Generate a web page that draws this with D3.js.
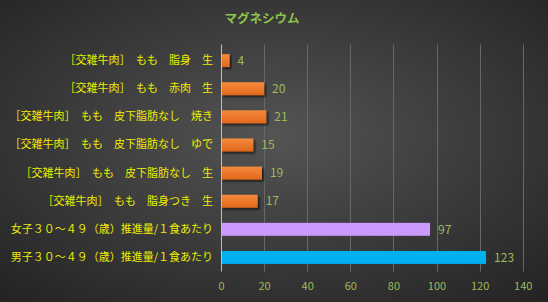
<!doctype html>
<html lang="ja">
<head>
  <meta charset="UTF-8">
  <title>マグネシウム</title>
  <script src="https://d3js.org/d3.v7.min.js" charset="utf-8"></script>
  <style>
    body { margin: 0; background: #333; }
    svg { display: block; }
  </style>
</head>
<body>
  <script>

    var categories = [
      "［交雑牛肉］　もも　脂身　生",
      "［交雑牛肉］　もも　赤肉　生",
      "［交雑牛肉］　もも　皮下脂肪なし　焼き",
      "［交雑牛肉］　もも　皮下脂肪なし　ゆで",
      "［交雑牛肉］　もも　皮下脂肪なし　生",
      "［交雑牛肉］　もも　脂身つき　生",
      "女子３０～４９（歳）推進量/１食あたり",
      "男子３０～４９（歳）推進量/１食あたり"
    ];
    var values = [4, 20, 21, 15, 19, 17, 97, 123];
    var barColors = ["orange", "orange", "orange", "orange", "orange", "orange", "#cc99ff", "#00b0f0"];
    var xTicks = [0, 20, 40, 60, 80, 100, 120, 140];

    var width = 548
      , height = 302
      , margin = {top: 46.5, right: 26, bottom: 30.5, left: 221}
      ;

    var svg = d3.select("body").append("svg")
      .attr("width", width)
      .attr("height", height);

    var defs = svg.append("defs");

    var bg = defs.append("radialGradient")
      .attr("id", "bg")
      .attr("cx", "50%").attr("cy", "45%").attr("r", "75%");
    bg.append("stop").attr("offset", "0%").attr("stop-color", "#545454");
    bg.append("stop").attr("offset", "100%").attr("stop-color", "#222222");

    var og = defs.append("linearGradient")
      .attr("id", "orangeGrad")
      .attr("x1", 0).attr("y1", 0).attr("x2", 0).attr("y2", 1);
    og.append("stop").attr("offset", "0%").attr("stop-color", "#f58a3c");
    og.append("stop").attr("offset", "100%").attr("stop-color", "#e2681c");

    var shadow = defs.append("filter").attr("id", "shadow")
      .attr("x", "-10%").attr("y", "-30%").attr("width", "130%").attr("height", "180%");
    shadow.append("feDropShadow")
      .attr("dx", 2).attr("dy", 2).attr("stdDeviation", 1.2)
      .attr("flood-color", "#000").attr("flood-opacity", 0.6);

    svg.append("rect")
      .attr("width", width).attr("height", height)
      .attr("fill", "url(#bg)");

    var x = d3.scaleLinear()
      .domain([0, 140])
      .range([margin.left, width - margin.right + 0.7]);

    var y = d3.scaleBand()
      .domain(categories)
      .range([margin.top, height - margin.bottom])
      .paddingInner(0.54)
      .paddingOuter(0.27);

    // title
    svg.append("text")
      .attr("x", 262)
      .attr("y", 23)
      .attr("text-anchor", "middle")
      .attr("fill", "#8cc34a")
      .attr("font-family", "Noto Sans CJK JP, sans-serif")
      .attr("font-size", 12.5)
      .attr("font-weight", "bold")
      .text("マグネシウム");

    // gridlines
    svg.append("g")
      .selectAll("line")
      .data(xTicks.slice(1))
      .enter()
      .append("line")
      .attr("x1", function(d) { return Math.round(x(d)) + 0.5; })
      .attr("x2", function(d) { return Math.round(x(d)) + 0.5; })
      .attr("y1", margin.top - 2)
      .attr("y2", height - margin.bottom)
      .attr("stroke", "#676767")
      .attr("stroke-width", 1);

    // x axis labels
    var xAxis = d3.axisBottom(x).tickValues(xTicks).tickSize(0).tickPadding(0);
    var gx = svg.append("g")
      .attr("transform", "translate(0," + (height - margin.bottom) + ")")
      .call(xAxis);
    gx.select(".domain").remove();
    gx.selectAll("text")
      .attr("dy", 0)
      .attr("y", 18)
      .attr("fill", "#9bbb59")
      .attr("font-family", "Noto Sans CJK JP, sans-serif")
      .attr("font-size", 11);

    // y axis labels
    var yAxis = d3.axisLeft(y).tickSize(0).tickPadding(8);
    var gy = svg.append("g")
      .attr("transform", "translate(" + margin.left + ",0)")
      .call(yAxis);
    gy.select(".domain").remove();
    gy.selectAll("text")
      .attr("fill", "#ecec00")
      .attr("font-family", "Noto Sans CJK JP, sans-serif")
      .attr("font-size", 11);

    // bars
    svg.append("g")
      .selectAll("rect")
      .data(values)
      .enter()
      .append("rect")
      .attr("x", x(0))
      .attr("y", function(d, i) { return y(categories[i]); })
      .attr("width", function(d) { return x(d) - x(0); })
      .attr("height", y.bandwidth())
      .attr("fill", function(d, i) {
        return barColors[i] === "orange" ? "url(#orangeGrad)" : barColors[i];
      })
      .attr("filter", function(d, i) { return barColors[i] === "orange" ? "url(#shadow)" : null; });

    // value labels
    svg.append("g")
      .selectAll("text")
      .data(values)
      .enter()
      .append("text")
      .attr("x", function(d) { return x(d) + 8; })
      .attr("y", function(d, i) { return y(categories[i]) + y.bandwidth() / 2; })
      .attr("dy", "0.35em")
      .attr("fill", "#9bbb59")
      .attr("font-family", "Noto Sans CJK JP, sans-serif")
      .attr("font-size", 12)
      .text(function(d) { return d; });

    // axis line
    svg.append("line")
      .attr("x1", Math.round(x(0)) + 0.5)
      .attr("x2", Math.round(x(0)) + 0.5)
      .attr("y1", margin.top - 2)
      .attr("y2", height - margin.bottom)
      .attr("stroke", "#bfbfbf")
      .attr("stroke-width", 1);

  </script>
</body>
</html>
